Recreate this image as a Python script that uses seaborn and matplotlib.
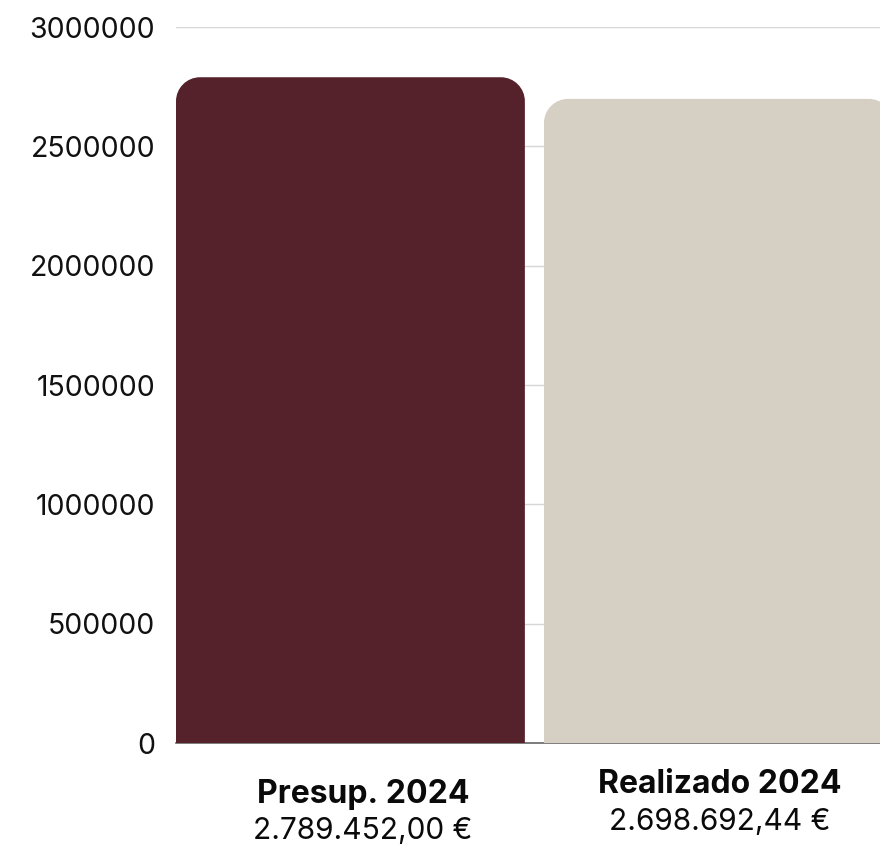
import numpy as np
import pandas as pd
import matplotlib
matplotlib.use("Agg")
import matplotlib.pyplot as plt
import seaborn as sns
from matplotlib.patches import PathPatch
from matplotlib.path import Path

categories = ["Presup. 2024", "Realizado 2024"]
values = [2789452.00, 2698692.44]
value_labels = ["2.789.452,00 €", "2.698.692,44 €"]
colors = ["#55212b", "#d6cfc4"]
yticks = [0, 500000, 1000000, 1500000, 2000000, 2500000, 3000000]

sns.set_style("white")
plt.rcParams['font.family'] = ['Inter', 'DejaVu Sans']

df = pd.DataFrame({"cat": categories, "val": values})

fig = plt.figure(figsize=(8.8, 8.51), dpi=100)
ax = fig.add_axes([0.2, 108 / 851, 0.8, 716 / 851])

sns.barplot(data=df, x="cat", y="val", hue="cat", palette=colors,
            legend=False, width=0.948, ax=ax, saturation=1)

ax.set_xlim(-0.474, 1.439)
ax.set_ylim(0, 3000000)
ax.set_yticks(yticks)
ax.set_yticklabels([str(t) for t in yticks], fontsize=20.5, color="#111111")
ax.tick_params(axis="y", length=0, pad=15)
ax.set_xticks([])
ax.set_xlabel("")
ax.set_ylabel("")
ax.grid(axis="y", color="#d6d6d6", linewidth=1)
ax.set_axisbelow(True)
for s in ["left", "right", "top"]:
    ax.spines[s].set_visible(False)
ax.spines["bottom"].set_color("#666666")
ax.spines["bottom"].set_linewidth(1.2)
ax.spines["bottom"].set_zorder(1)

# rounded top corners
fig.canvas.draw()
p0 = ax.transData.transform((0, 0))
p1 = ax.transData.transform((1, 1e6))
sx = p1[0] - p0[0]
sy = (p1[1] - p0[1]) / 1e6
radius = 24
rx = radius / sx
ry = radius / sy
k = 0.5523
for patch in list(ax.patches):
    x, y = patch.get_x(), patch.get_y()
    w, h = patch.get_width(), patch.get_height()
    fc = patch.get_facecolor()
    patch.set_visible(False)
    x1, y1 = x + w, y + h
    verts = [
        (x, y), (x1, y), (x1, y1 - ry),
        (x1, y1 - ry + k * ry), (x1 - rx + k * rx, y1), (x1 - rx, y1),
        (x + rx, y1),
        (x + rx - k * rx, y1), (x, y1 - ry + k * ry), (x, y1 - ry),
        (x, y),
    ]
    codes = [Path.MOVETO, Path.LINETO, Path.LINETO,
             Path.CURVE4, Path.CURVE4, Path.CURVE4,
             Path.LINETO,
             Path.CURVE4, Path.CURVE4, Path.CURVE4,
             Path.CLOSEPOLY]
    ax.add_patch(PathPatch(Path(verts, codes), fc=fc, ec="none", zorder=2))

# category labels below the bars
label_x = [0.034, 1.004]
name_y = [-0.072, -0.058]
val_y = [-0.123, -0.111]
for i in range(len(categories)):
    ax.text(label_x[i], name_y[i], categories[i], transform=ax.get_xaxis_transform(),
            ha="center", va="center", fontsize=23, fontweight="bold", color="#0a0a0a")
    ax.text(label_x[i], val_y[i], value_labels[i], transform=ax.get_xaxis_transform(),
            ha="center", va="center", fontsize=21.5, color="#0a0a0a")

fig.savefig("out.png", dpi=100)
